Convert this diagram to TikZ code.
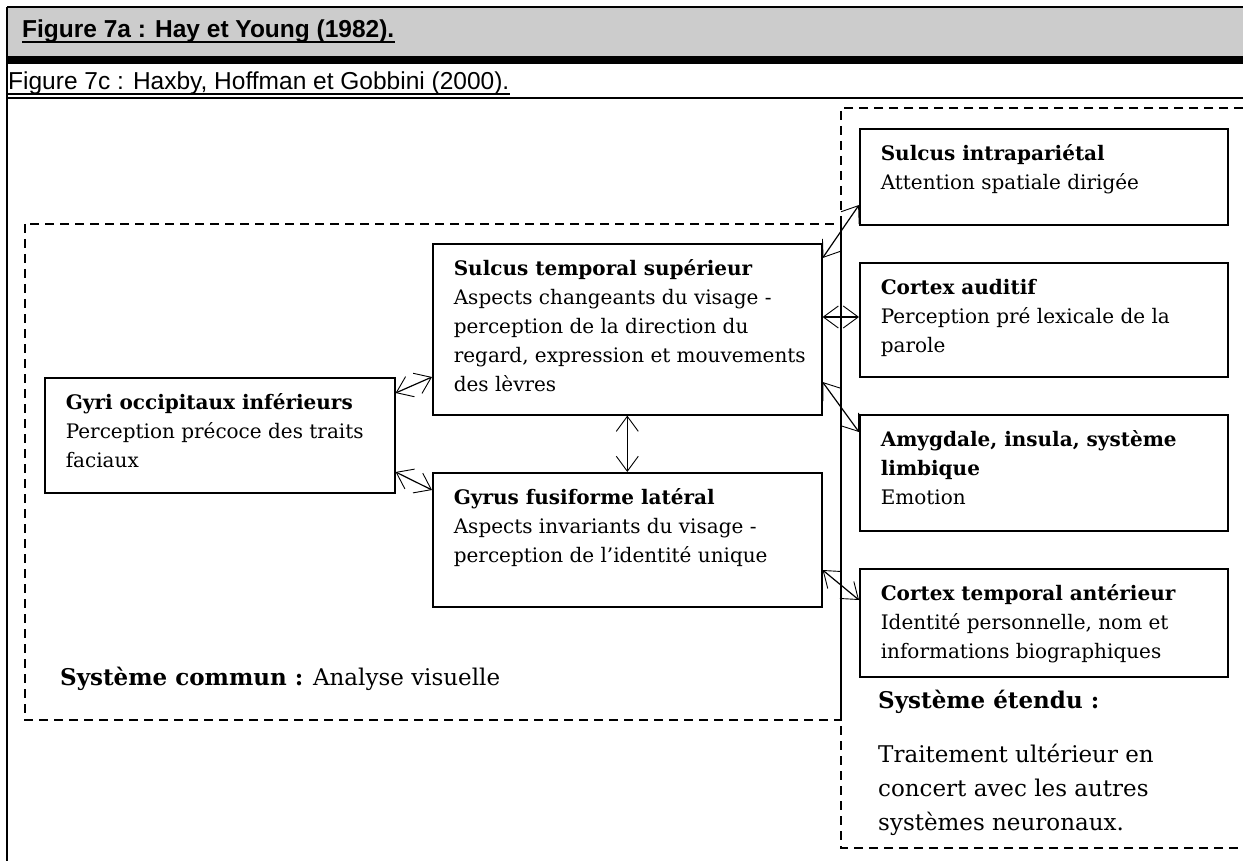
\documentclass[tikz,border=0pt]{standalone}
\usepackage{fontspec}
\setmainfont{DejaVu Serif}
\newfontfamily\headfont{Liberation Sans}
\usetikzlibrary{arrows.meta}

\definecolor{headgray}{HTML}{CCCCCC}

% box content: fixed size, text set from the top left corner
\newcommand{\boxtext}[3]{\parbox[c][#2][t]{#1}{\leftskip=21pt\parindent=0pt
  \fontsize{20}{29}\selectfont\rule{0pt}{32pt}#3}}

\begin{document}
\begin{tikzpicture}[x=1pt, y=-1pt,
  boxnode/.style={draw, line width=1.6pt, inner sep=0pt, anchor=north west},
  connector/.style={line width=1.2pt,
    {Straight Barb[length=15pt,width=22pt,line width=0.9pt]}-{Straight Barb[length=15pt,width=22pt,line width=0.9pt]}},
  dashline/.style={line width=1.5pt, dash pattern=on 9pt off 6pt},
  headtext/.style={inner sep=0pt, anchor=base west},
  bigtext/.style={inner sep=0pt, anchor=base west, font=\fontsize{23}{35}\selectfont}]

\useasboundingbox (0,0) rectangle (1243,861);

% heading band and frame
\fill[headgray] (7,7) rectangle (1243,56);
\fill[black] (7,56) rectangle (1243,64);
\draw[line width=1.5pt] (7,7) -- (1243,7);
\draw[line width=2pt] (7,98) -- (1243,98);
\draw[line width=2pt] (7,7) -- (7,861);

\node[headtext, font=\headfont\bfseries\fontsize{24.5}{28}\selectfont] (fig7a) at (22,38)
  {Figure 7a : Hay et Young (1982).};
\draw[line width=1.8pt] ([yshift=-4pt]fig7a.base west) -- ([yshift=-4pt]fig7a.base east);
\node[headtext, font=\headfont\fontsize{24.5}{28}\selectfont] (fig7c) at (8,90)
  {Figure 7c : Haxby, Hoffman et Gobbini (2000).};
\draw[line width=1.3pt] ([yshift=-4pt]fig7c.base west) -- ([yshift=-4pt]fig7c.base east);

% the two systems
\draw[dashline] (25,224) rectangle (841,720);
\draw[dashline] (1243,108) -- (841,108) -- (841,848) -- (1243,848);

% core system
\node[boxnode] (gyri) at (44,377) {\boxtext{350pt}{115pt}{\textbf{Gyri occipitaux inférieurs}\\
  Perception précoce des traits\\faciaux}};
\node[boxnode] (sts) at (432,243) {\boxtext{389pt}{171pt}{\textbf{Sulcus temporal supérieur}\\
  Aspects changeants du visage -\\perception de la direction du\\
  regard, expression et mouvements\\des lèvres}};
\node[boxnode] (fus) at (432,472) {\boxtext{389pt}{134pt}{\textbf{Gyrus fusiforme latéral}\\
  Aspects invariants du visage -\\perception de l'identité unique}};

% extended system
\node[boxnode] (sip) at (859,128) {\boxtext{368pt}{96pt}{\textbf{Sulcus intrapariétal}\\
  Attention spatiale dirigée}};
\node[boxnode] (aud) at (859,262) {\boxtext{368pt}{114pt}{\textbf{Cortex auditif}\\
  Perception pré lexicale de la\\parole}};
\node[boxnode] (amy) at (859,414) {\boxtext{368pt}{116pt}{\textbf{Amygdale, insula, système}\\
  \textbf{limbique}\\Emotion}};
\node[boxnode] (cta) at (859,568) {\boxtext{368pt}{108pt}{\textbf{Cortex temporal antérieur}\\
  Identité personnelle, nom et\\informations biographiques}};

% connections
\draw[connector] ([yshift=-16pt]gyri.north east) -- ([yshift=-134pt]sts.north west);
\draw[connector] ([yshift=-95pt]gyri.north east) -- ([yshift=-18pt]fus.north west);
\draw[connector] (sts.south) -- (fus.north);
\draw[connector] ([yshift=-15pt]sts.north east) -- ([yshift=-77pt]sip.north west);
\draw[connector] ([yshift=-74pt]sts.north east) -- ([yshift=-55pt]aud.north west);
\draw[connector] ([yshift=-139pt]sts.north east) -- ([yshift=-18pt]amy.north west);
\draw[connector] ([yshift=-98pt]fus.north east) -- ([yshift=-32pt]cta.north west);

% system labels
\node[bigtext] (common) at (60,685) {\textbf{Système commun :} Analyse visuelle};
\node[bigtext] (extended) at (878,708) {\textbf{Système étendu :}};
\node[bigtext] (extended1) at (878,762) {Traitement ultérieur en};
\node[bigtext] (extended2) at (878,796) {concert avec les autres};
\node[bigtext] (extended3) at (878,830) {systèmes neuronaux.};

\end{tikzpicture}
\end{document}
